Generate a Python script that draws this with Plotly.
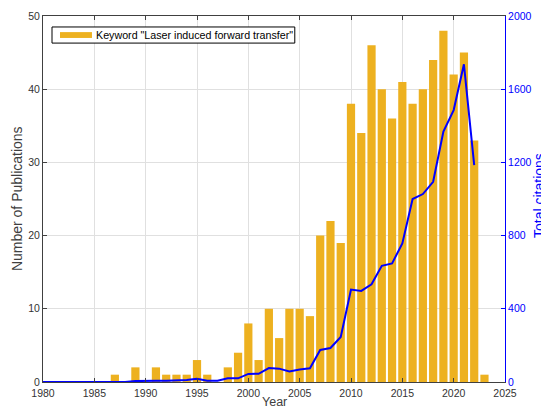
import plotly.graph_objects as go

years_pub = list(range(1980, 2024))
publications = [0, 0, 0, 0, 0, 0, 0, 1, 0, 2,
                0, 2, 1, 1, 1, 3, 1, 0, 2, 4,
                8, 3, 10, 6, 10, 10, 9, 20, 22, 19,
                38, 34, 46, 40, 36, 41, 38, 40, 44, 48,
                42, 45, 33, 1]

years_cit = list(range(1980, 2023))
citations = [0, 0, 0, 0, 0, 0, 0, 0, 0, 5,
             4, 7, 7, 7, 11, 18, 7, 7, 20, 20,
             44, 45, 76, 73, 58, 68, 75, 175, 186, 246,
             505, 498, 534, 635, 648, 757, 1000, 1027, 1094, 1368,
             1486, 1736, 1185]

x_ticks = list(range(1980, 2026, 5))
y_ticks = [0, 10, 20, 30, 40, 50]
y2_ticks = [0, 400, 800, 1200, 1600, 2000]
legend_label = 'Keyword "Laser induced forward transfer"'

bar_color = "#EDB120"
line_color = "#0000FF"
font_family = "Liberation Sans, Arial, Helvetica, sans-serif"
tick_color = "#333333"
axis_color = "#404040"
grid_color = "#E0E0E0"

fig = go.Figure()
fig.add_trace(go.Bar(
    x=years_pub, y=publications, width=0.8,
    marker=dict(color=bar_color, line=dict(width=0)),
    name=legend_label, showlegend=False,
))
fig.add_trace(go.Scatter(
    x=years_cit, y=citations, yaxis="y2", mode="lines",
    line=dict(color=line_color, width=2),
    showlegend=False,
))

# page body has an 8px default margin, so the figure is sized to the remaining view
fig.update_layout(
    width=541, height=402,
    margin=dict(l=35, r=44, t=8, b=28),
    paper_bgcolor="white", plot_bgcolor="white",
    font=dict(family=font_family, size=11, color=tick_color),
    showlegend=False,
    xaxis=dict(
        range=[1980, 2025], tickmode="array", tickvals=x_ticks,
        showgrid=True, gridcolor=grid_color, gridwidth=1,
        showline=True, linecolor=axis_color, linewidth=1, mirror="ticks",
        ticks="inside", ticklen=4, tickcolor=axis_color,
        zeroline=False, tickfont=dict(size=10.5, color=tick_color),
        ticklabelstandoff=1, automargin=False,
    ),
    yaxis=dict(
        range=[0, 50], tickvals=y_ticks,
        showgrid=True, gridcolor=grid_color, gridwidth=1,
        showline=True, linecolor=axis_color, linewidth=1,
        ticks="inside", ticklen=4, tickcolor=axis_color,
        zeroline=False, tickfont=dict(size=10.5, color=tick_color),
        automargin=False,
    ),
    yaxis2=dict(
        range=[0, 2000], tickvals=y2_ticks,
        overlaying="y", side="right", showgrid=False,
        showline=True, linecolor=line_color, linewidth=1,
        ticks="inside", ticklen=4, tickcolor=line_color,
        zeroline=False, tickfont=dict(size=10.5, color=line_color),
        automargin=False,
    ),
)

# axis titles (paper coords relative to the plot area, 462 x 366 px)
fig.add_annotation(text="Year", xref="paper", yref="paper", x=0.5, y=-0.0765,
                   xanchor="center", yanchor="bottom", showarrow=False, borderpad=0,
                   font=dict(size=12.5, color="#404040"))
fig.add_annotation(text="Number of Publications", xref="paper", yref="paper",
                   x=-0.0755, y=0.5, textangle=-90, xanchor="left", yanchor="middle",
                   showarrow=False, borderpad=0, font=dict(size=14, color="#404040"))
fig.add_annotation(text="Total citations", xref="paper", yref="paper",
                   x=1.0945, y=0.51, textangle=-90, xanchor="right", yanchor="middle",
                   showarrow=False, borderpad=0, font=dict(size=14, color=line_color))

# legend box
fig.add_shape(type="rect", xref="paper", yref="paper", x0=0.0195, x1=0.545,
              y0=0.926, y1=0.970, line=dict(color="#000000", width=1),
              fillcolor="white", layer="above")
fig.add_shape(type="rect", xref="paper", yref="paper", x0=0.0368, x1=0.106,
              y0=0.940, y1=0.956, line=dict(width=0), fillcolor=bar_color, layer="above")
fig.add_annotation(text=legend_label, xref="paper", yref="paper", x=0.110, y=0.948,
                   xanchor="left", yanchor="middle", showarrow=False,
                   font=dict(size=10.7, color="#000000"))

fig.write_html("out.html")
